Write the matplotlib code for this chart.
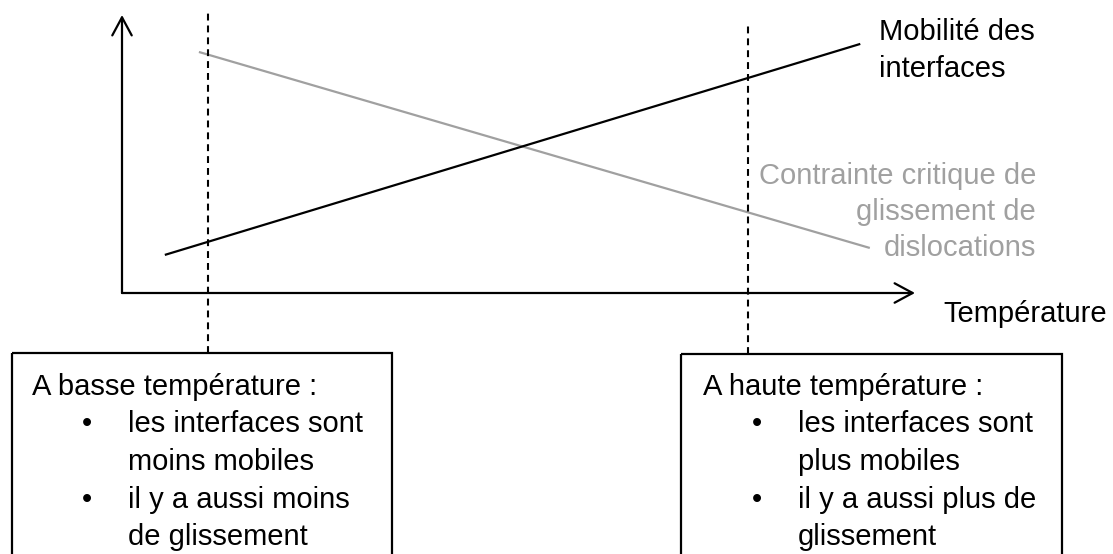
import matplotlib
matplotlib.use("Agg")
import matplotlib.pyplot as plt
from matplotlib.patches import Rectangle

# données du schéma (unités arbitraires, axes 0..100)
temp_mobilite = [5.4, 93.1]
val_mobilite = [13.7, 89.6]
temp_contrainte = [9.7, 94.3]
val_contrainte = [86.7, 16.2]
temp_limites = [10.8, 78.9]
haut_limites = [100.7, 96.8]
bas_limites = [-21.6, -21.9]

label_mobilite = ["Mobilité des", "interfaces"]
label_contrainte = ["Contrainte critique de", "glissement de", "dislocations"]
label_axe_x = "Température"

box_basse = ["A basse température :", "les interfaces sont", "moins mobiles",
             "il y a aussi moins", "de glissement"]
box_haute = ["A haute température :", "les interfaces sont", "plus mobiles",
             "il y a aussi plus de", "glissement"]

plt.rcParams['font.family'] = ['Liberation Sans', 'DejaVu Sans']
GRIS = "#a0a0a0"
FS = 21

W, H = 1113, 554
fig = plt.figure(figsize=(W / 100, H / 100), dpi=100)

# calque en pixels pour les textes et les cadres
over = fig.add_axes([0, 0, 1, 1])
over.set_xlim(0, W)
over.set_ylim(H, 0)
over.axis("off")

# axes du graphique
ax = fig.add_axes([122 / W, (H - 293) / H, (915 - 122) / W, (293 - 15) / H])
ax.set_xlim(0, 100)
ax.set_ylim(0, 100)
ax.axis("off")

arrow = dict(arrowstyle="->,head_length=13,head_width=7", mutation_scale=1,
             lw=1.6, color="black", shrinkA=0, shrinkB=0)
ax.annotate("", xy=(0, 1), xytext=(0, 0), xycoords="axes fraction", arrowprops=arrow)
ax.annotate("", xy=(1, 0), xytext=(0, 0), xycoords="axes fraction", arrowprops=arrow)

ax.plot(temp_contrainte, val_contrainte, color=GRIS, lw=1.6, solid_capstyle="butt")
ax.plot(temp_mobilite, val_mobilite, color="black", lw=1.6, solid_capstyle="butt")

for t, top, bot in zip(temp_limites, haut_limites, bas_limites):
    ax.plot([t, t], [bot, top], color="black", lw=1.5, ls=(0, (3.3, 2.4)), clip_on=False)

# étiquettes des courbes
for i, s in enumerate(label_mobilite):
    over.text(879, 40 + i * 37, s, fontsize=FS, va="baseline", ha="left")
for i, s in enumerate(label_contrainte):
    over.text(1036, 184 + i * 36, s, fontsize=FS, va="baseline", ha="right", color=GRIS)
over.text(943, 322, label_axe_x, fontsize=FS, va="baseline", ha="left")

# cadres explicatifs
def cadre(x0, x1, y0, lignes, xt, xb, xl):
    over.add_patch(Rectangle((x0, y0), x1 - x0, H + 10 - y0, fill=False,
                             lw=1.6, ec="black", clip_on=False))
    y = 395
    over.text(xt, y, lignes[0], fontsize=FS, va="baseline")
    for i, s in enumerate(lignes[1:]):
        yy = y + (i + 1) * 37.5
        if i % 2 == 0:
            over.text(xb, yy, "•", fontsize=FS, va="baseline", ha="center")
        over.text(xl, yy, s, fontsize=FS, va="baseline")

cadre(12, 392, 353, box_basse, 32, 87, 128)
cadre(681, 1062, 354, box_haute, 703, 757, 798)

fig.savefig("out.png", dpi=100)
